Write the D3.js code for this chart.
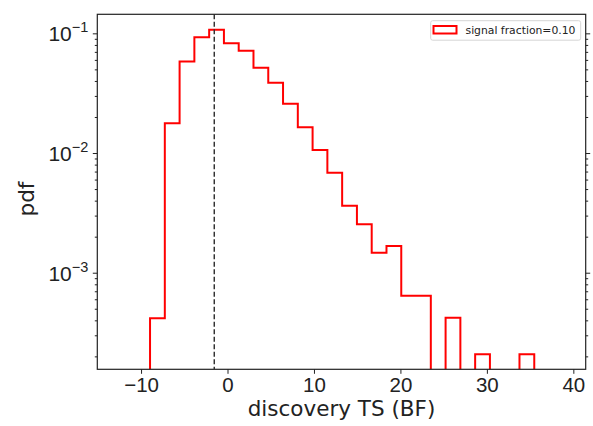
<!DOCTYPE html>
<html>
<head>
<meta charset="utf-8">
<script src="https://cdn.jsdelivr.net/npm/d3@7"></script>
<style>
  body { margin: 0; background: #fff; }
  svg { display: block; font-family: "DejaVu Sans", sans-serif; }
</style>
</head>
<body>
<div id="chart"></div>
<script>
// histogram of discovery TS, 26 equal bins
const tsRange = [-8.96, 35.48]
const nBins = 26
const density = [
	4.16e-4, 0.0177, 0.0583, 0.0926, 0.107, 0.0825, 0.0716, 0.0516, 0.0387,
	0.0258, 0.0164, 0.0106, 0.00684, 0.00363, 0.00254, 0.00147, 0.00167,
	6.43e-4, 6.43e-4, 0, 4.2e-4, 0, 2.08e-4, 0, 0, 2.08e-4
]
const medianTS = -1.53
const xTicks = [-10, 0, 10, 20, 30, 40]
const yDecades = [1e-3, 1e-2, 1e-1]
const legendLabel = "signal fraction=0.10"

const dimensions = { width: 593, height: 426 }
const margin = { top: 14.3, right: 7.3, bottom: 56.7, left: 97.3 }

const x = d3.scaleLinear()
	.domain([-15.06, 41.43])
	.range([margin.left, dimensions.width - margin.right])

const y = d3.scaleLog()
	.domain([Math.pow(10, -3.807), Math.pow(10, -0.841)])
	.range([dimensions.height - margin.bottom, margin.top])

const svg = d3.select('#chart')
	.append('svg')
		.attr('width', dimensions.width)
		.attr('height', dimensions.height)

svg.append('clipPath')
		.attr('id', 'plot-area')
	.append('rect')
		.attr('x', margin.left)
		.attr('y', margin.top)
		.attr('width', dimensions.width - margin.left - margin.right)
		.attr('height', dimensions.height - margin.top - margin.bottom)

const binW = (tsRange[1] - tsRange[0]) / nBins
const edges = d3.range(nBins + 1).map(i => tsRange[0] + i * binW)

// step outline, empty bins drop below the axis
const pts = [{ e: edges[0], v: 0 }]
density.forEach((v, i) => pts.push({ e: edges[i], v: v }))
pts.push({ e: edges[nBins], v: 0 })

const yPos = v => v > 0 ? y(v) : dimensions.height + 20

const line = d3.line()
	.x(d => x(d.e))
	.y(d => yPos(d.v))
	.curve(d3.curveStepAfter)

const plot = svg.append('g')
	.attr('clip-path', 'url(#plot-area)')

plot.append('path')
	.datum(pts)
	.attr('fill', 'none')
	.attr('stroke', '#ff0000')
	.attr('stroke-width', 2)
	.attr('d', line)

plot.append('line')
	.attr('x1', x(medianTS))
	.attr('x2', x(medianTS))
	.attr('y1', margin.top)
	.attr('y2', dimensions.height - margin.bottom)
	.attr('stroke', '#333')
	.attr('stroke-width', 1.5)
	.attr('stroke-dasharray', '5,2.5')

const allTicks = y.ticks()
const minorTicks = allTicks.filter(t => !yDecades.some(d => Math.abs(t / d - 1) < 1e-6))

// x axis
const gx = svg.append('g')
	.attr('transform', `translate(0,${dimensions.height - margin.bottom})`)
	.call(d3.axisBottom(x).tickValues(xTicks).tickSizeOuter(0).tickSize(4.5).tickPadding(3.5)
		.tickFormat(d => d < 0 ? '\u2212' + Math.abs(d) : d))
gx.select('.domain').remove()
gx.selectAll('.tick text').attr('font-size', 20.5).attr('fill', '#222').attr('dy', '0.72em')
gx.selectAll('.tick line').attr('stroke', '#222')

// y axis, left
const gy = svg.append('g')
	.attr('transform', `translate(${margin.left},0)`)
	.call(d3.axisLeft(y).tickValues(yDecades).tickSize(4.5).tickPadding(4).tickFormat(''))
gy.select('.domain').remove()
gy.selectAll('.tick line').attr('stroke', '#222')
gy.selectAll('.tick text').each(function(d) {
	const t = d3.select(this)
		.attr('font-size', 21)
		.attr('fill', '#222')
		.attr('dy', '0.36em')
		.attr('x', -9)
	t.append('tspan').text('10')
	t.append('tspan').attr('font-size', 14.5).attr('dy', -9).text('\u2212' + Math.round(-Math.log10(d)))
})

const gyMinor = svg.append('g')
	.attr('transform', `translate(${margin.left},0)`)
	.call(d3.axisLeft(y).tickValues(minorTicks).tickSize(2.5).tickFormat(''))
gyMinor.select('.domain').remove()
gyMinor.selectAll('.tick line').attr('stroke', '#222')

// y axis, right (ticks only)
const gyR = svg.append('g')
	.attr('transform', `translate(${dimensions.width - margin.right},0)`)
	.call(d3.axisRight(y).tickValues(yDecades).tickSize(4.5).tickFormat(''))
gyR.select('.domain').remove()
gyR.selectAll('.tick line').attr('stroke', '#222')

const gyRMinor = svg.append('g')
	.attr('transform', `translate(${dimensions.width - margin.right},0)`)
	.call(d3.axisRight(y).tickValues(minorTicks).tickSize(2.5).tickFormat(''))
gyRMinor.select('.domain').remove()
gyRMinor.selectAll('.tick line').attr('stroke', '#222')

// frame
svg.append('rect')
	.attr('x', margin.left)
	.attr('y', margin.top)
	.attr('width', dimensions.width - margin.left - margin.right)
	.attr('height', dimensions.height - margin.top - margin.bottom)
	.attr('fill', 'none')
	.attr('stroke', '#222')
	.attr('stroke-width', 1.2)

// axis labels
svg.append('text')
	.attr('x', (margin.left + dimensions.width - margin.right) / 2)
	.attr('y', 415.5)
	.attr('text-anchor', 'middle')
	.attr('font-size', 21.5)
	.attr('fill', '#222')
	.text('discovery TS (BF)')

svg.append('text')
	.attr('transform', 'translate(34,199) rotate(-90)')
	.attr('text-anchor', 'middle')
	.attr('font-size', 21.5)
	.attr('fill', '#222')
	.text('pdf')

// legend
const legend = svg.append('g')
legend.append('rect')
	.attr('x', 430.7).attr('y', 20.7)
	.attr('width', 150).attr('height', 19.5)
	.attr('rx', 2)
	.attr('fill', '#fff')
	.attr('stroke', '#d6d6d6')
legend.append('rect')
	.attr('x', 433.5).attr('y', 26)
	.attr('width', 23).attr('height', 7.5)
	.attr('fill', 'none')
	.attr('stroke', '#ff0000')
	.attr('stroke-width', 2)
legend.append('text')
	.attr('x', 465.5).attr('y', 33.5)
	.attr('font-size', 10.8)
	.attr('fill', '#222')
	.text(legendLabel)
</script>
</body>
</html>
